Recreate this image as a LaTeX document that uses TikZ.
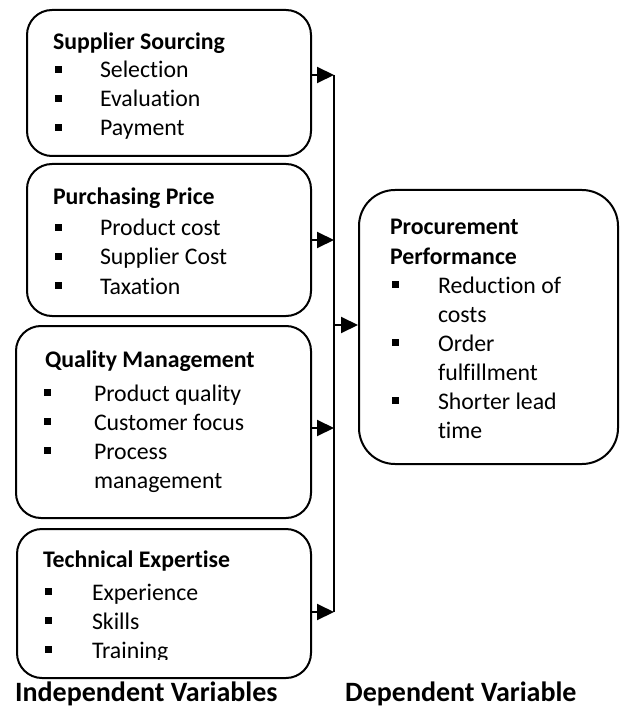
\documentclass[tikz,border=0pt]{standalone}
\usepackage{fontspec}
\setmainfont{Carlito}[Ligatures=NoCommon]
\usetikzlibrary{arrows.meta}
\tikzset{
  box/.style={draw=black, line width=2pt, rounded corners=25pt, anchor=north west, inner sep=0pt},
  bigbox/.style={box, rounded corners=36pt},
  txt/.style={anchor=base west, inner sep=0pt, outer sep=0pt, font=\fontsize{23.8}{29}\selectfont},
  head/.style={txt, font=\fontsize{23.8}{29}\selectfont\bfseries},
  lbl/.style={anchor=base west, inner sep=0pt, font=\fontsize{28}{34}\selectfont\bfseries},
  conn/.style={line width=2pt},
  arr/.style={line width=2pt, -{Triangle[length=17pt,width=16pt]}},
}
\newcommand{\bul}[2]{\fill (#1,#2-5) rectangle ++(7,-7);}
\begin{document}
\begin{tikzpicture}[x=1pt, y=-1pt]
\useasboundingbox (0,0) rectangle (619,708);
% boxes
\node[box, minimum width=284pt, minimum height=146pt] (b1) at (26,9) {};
\node[box, minimum width=284pt, minimum height=152pt] (b2) at (26,163) {};
\node[box, minimum width=295pt, minimum height=192pt] (b3) at (15,325) {};
\node[box, minimum width=294pt, minimum height=149pt] (b4) at (16,528) {};
\node[bigbox, minimum width=259pt, minimum height=274pt] (perf) at (358,189) {};
% box 1
\node[head] (h1) at (53,50) {Supplier Sourcing};
\bul{55}{78}\node[txt] (t11) at (100,78) {Selection};
\bul{55}{107}\node[txt] (t12) at (100,107) {Evaluation};
\begin{scope}
\clip (0,0) rectangle (619,139);
\bul{55}{136}\node[txt] (t13) at (100,136) {Payment};
\end{scope}
% box 2
\node[head] (h2) at (53,205) {Purchasing Price};
\bul{55}{236}\node[txt] (t21) at (100,236) {Product cost};
\bul{55}{265}\node[txt] (t22) at (100,265) {Supplier Cost};
\bul{55}{294}\node[txt] (t23) at (100,294) {Taxation};
% box 3
\node[head] (h3) at (45,367) {Quality Management};
\bul{44}{401}\node[txt] (t31) at (94,401) {Product quality};
\bul{44}{430}\node[txt] (t32) at (94,430) {Customer focus};
\bul{44}{459}\node[txt] (t33) at (94,459) {Process};
\node[txt] (t34) at (94,488) {management};
% box 4
\node[head] (h4) at (43,567) {Technical Expertise};
\bul{45}{600}\node[txt] (t41) at (92,600) {Experience};
\bul{45}{629}\node[txt] (t42) at (92,629) {Skills};
\begin{scope}
\clip (0,0) rectangle (619,659);
\bul{45}{658}\node[txt] (t43) at (92,658) {Training};
\end{scope}
% right box
\node[head] (h5) at (390,235) {Procurement};
\node[head] (h6) at (390,264) {Performance};
\bul{392}{293}\node[txt] (t51) at (438,293) {Reduction of};
\node[txt] (t52) at (438,322) {costs};
\bul{392}{351}\node[txt] (t53) at (438,351) {Order};
\node[txt] (t54) at (438,380) {fulfillment};
\bul{392}{409}\node[txt] (t55) at (438,409) {Shorter lead};
\node[txt] (t56) at (438,438) {time};
% labels
\node[lbl] (l1) at (15,701) {Independent Variables};
\node[lbl] (l2) at (345,701) {Dependent Variable};
% connectors
\coordinate (j1) at (334,75);
\coordinate (j2) at (334,240);
\coordinate (j3) at (334,428);
\coordinate (j4) at (334,612);
\coordinate (jm) at (334,325);
\draw[conn] (j1) -- (j4);
\draw[arr] (b1.east |- j1) -- (j1);
\draw[arr] (b2.east |- j2) -- (j2);
\draw[arr] (b3.east |- j3) -- (j3);
\draw[arr] (b4.east |- j4) -- (j4);
\draw[arr] (jm) -- (perf.west |- jm);
\end{tikzpicture}
\end{document}
